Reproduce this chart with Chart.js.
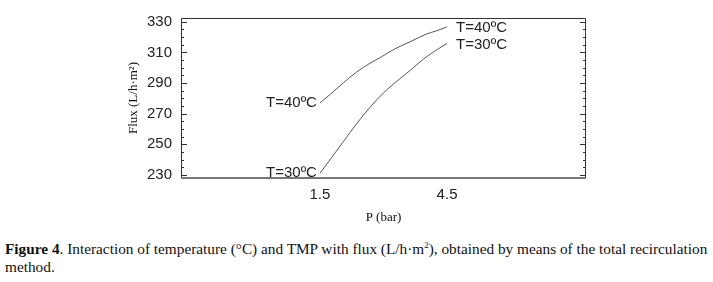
<!DOCTYPE html>
<html>
<head>
<meta charset="utf-8">
<script src="https://cdn.jsdelivr.net/npm/chart.js@4/dist/chart.umd.min.js"></script>
<style>
	body { margin: 0; background: #fff; width: 713px; height: 282px; overflow: hidden; position: relative; }
	#wrap { position: absolute; left: 0; top: 0; width: 713px; height: 230px; }
	.cap { position: absolute; left: 5px; font-family: 'Liberation Serif', serif; font-size: 15.3px; color: #111; white-space: nowrap; }
</style>
</head>
<body>
<div id="wrap"><canvas id="grafico"></canvas></div>
<div class="cap" style="top:240px"><b>Figure 4</b>. Interaction of temperature (°C) and TMP with flux (L/h·m<sup style="font-size:9px">2</sup>), obtained by means of the total recirculation</div>
<div class="cap" style="top:258px">method.</div>
<script>
// pressure (bar) and flux (L/h·m²)
const presion40 = [1.5, 1.75, 2.05, 2.37, 2.68, 2.92, 3.23, 3.63, 4.02, 4.26, 4.5];
const flux40 = [277.0, 282.8, 290.1, 297.3, 302.9, 306.6, 311.8, 317.0, 322.1, 324.2, 326.7];
const presion30 = [1.5, 1.75, 2.05, 2.37, 2.68, 3.0, 3.31, 3.63, 3.94, 4.26, 4.5];
const flux30 = [231.1, 240.4, 251.7, 263.6, 274.1, 283.6, 291.1, 298.3, 305.6, 311.8, 315.9];
const etiquetas = ['T=40ºC', 'T=30ºC'];
const ticksX = [1.5, 4.5];
const ticksY = [230, 250, 270, 290, 310, 330];

const puntos = (xs, ys) => xs.map((x, i) => ({ x: x, y: ys[i] }));

// frame with inward ticks + curve labels
const marco = {
	id: 'marco',
	afterDraw(chart) {
		const { ctx, chartArea: a, scales } = chart;
		ctx.save();
		ctx.strokeStyle = '#333';
		ctx.lineWidth = 1;
		ctx.beginPath();
		ctx.moveTo(a.left + 0.5, a.bottom);
		ctx.lineTo(a.left + 0.5, a.top + 0.5);
		ctx.lineTo(a.right - 0.5, a.top + 0.5);
		ctx.lineTo(a.right - 0.5, a.bottom);
		ctx.stroke();
		ctx.strokeStyle = '#777';
		ctx.lineWidth = 2;
		ctx.beginPath();
		ctx.moveTo(a.left, a.bottom);
		ctx.lineTo(a.right, a.bottom);
		ctx.stroke();

		ctx.strokeStyle = '#333';
		ctx.lineWidth = 1;
		for (let v = 230; v <= 330; v += 5) {
			const y = Math.round(scales.y.getPixelForValue(v)) + 0.5;
			const largo = ticksY.includes(v) ? 6 : 3;
			ctx.beginPath();
			ctx.moveTo(a.left, y);
			ctx.lineTo(a.left + largo, y);
			ctx.moveTo(a.right, y);
			ctx.lineTo(a.right - largo, y);
			ctx.stroke();
		}

		ctx.font = '15px "Liberation Sans", Arial, sans-serif';
		ctx.fillStyle = '#222';
		ctx.textBaseline = 'middle';
		chart.data.datasets.forEach((ds, i) => {
			const p0 = ds.data[0], p1 = ds.data[ds.data.length - 1];
			ctx.textAlign = 'right';
			ctx.fillText(etiquetas[i], scales.x.getPixelForValue(p0.x) - 3, scales.y.getPixelForValue(p0.y));
			ctx.textAlign = 'left';
			ctx.fillText(etiquetas[i], scales.x.getPixelForValue(p1.x) + 9, scales.y.getPixelForValue(p1.y) + 1);
		});
		ctx.restore();
	},
};

new Chart(document.getElementById('grafico'), {
	type: 'scatter',
	data: {
		datasets: [
			{
				label: etiquetas[0],
				data: puntos(presion40, flux40),
				showLine: true,
				borderColor: '#555',
				borderWidth: 1,
				pointRadius: 0,
				cubicInterpolationMode: 'monotone',
			},
			{
				label: etiquetas[1],
				data: puntos(presion30, flux30),
				showLine: true,
				borderColor: '#555',
				borderWidth: 1,
				pointRadius: 0,
				cubicInterpolationMode: 'monotone',
			},
		],
	},
	options: {
		responsive: true,
		maintainAspectRatio: false,
		animation: false,
		layout: {
			padding: { left: 126, right: 127, top: 10, bottom: 0 },
		},
		plugins: {
			legend: { display: false },
			tooltip: { enabled: false },
		},
		scales: {
			x: {
				type: 'linear',
				min: -1.78,
				max: 7.78,
				afterBuildTicks: (s) => { s.ticks = ticksX.map((v) => ({ value: v })); },
				afterFit: (s) => { s.height = 52; },
				border: { display: false },
				grid: { display: false, drawTicks: false },
				ticks: {
					padding: 8,
					color: '#222',
					font: { family: '"Liberation Sans", Arial, sans-serif', size: 15 },
					callback: (v) => v.toFixed(1),
				},
				title: {
					display: true,
					text: 'P (bar)',
					color: '#111',
					padding: { top: 0, bottom: 5 },
					font: { family: '"Liberation Serif", serif', size: 13 },
				},
			},
			y: {
				min: 228,
				max: 332.5,
				afterBuildTicks: (s) => { s.ticks = ticksY.map((v) => ({ value: v })); },
				afterFit: (s) => { s.width = 55; },
				border: { display: false },
				grid: { display: false, drawTicks: false },
				ticks: {
					padding: 9,
					color: '#222',
					font: { family: '"Liberation Sans", Arial, sans-serif', size: 15 },
				},
				title: {
					display: true,
					text: 'Flux (L/h·m²)',
					color: '#111',
					padding: 0,
					font: { family: '"Liberation Serif", serif', size: 13 },
				},
			},
		},
	},
	plugins: [marco],
});
</script>
</body>
</html>
